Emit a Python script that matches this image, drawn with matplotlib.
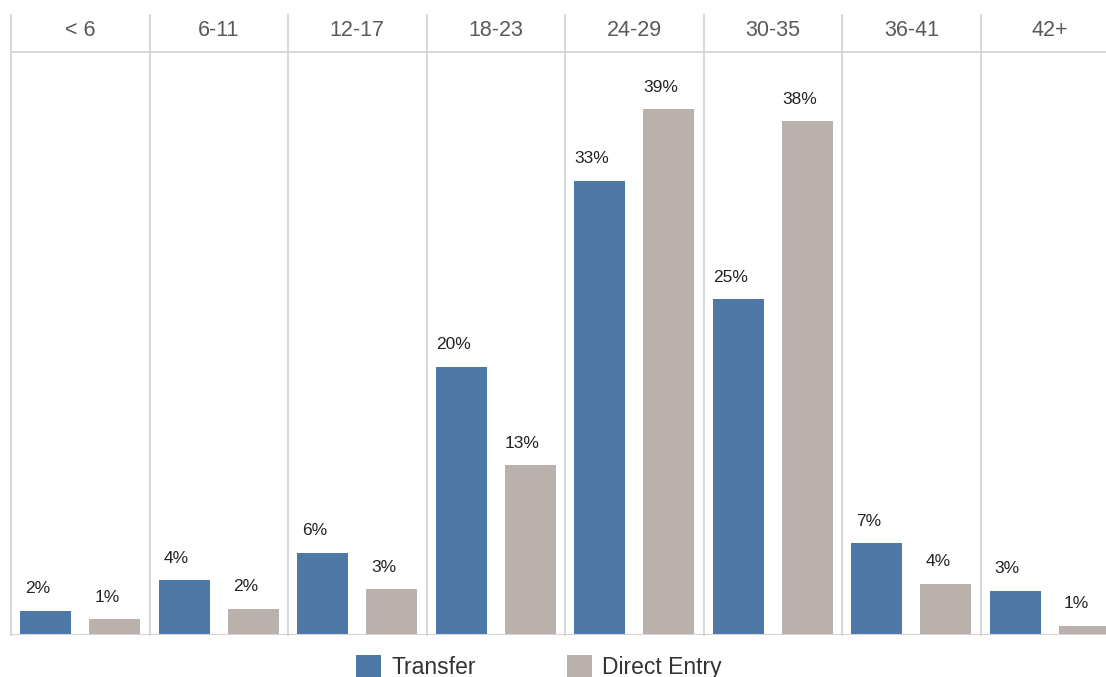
import matplotlib.pyplot as plt
from matplotlib.patches import Patch

plt.rcParams['font.family'] = ['Liberation Sans', 'DejaVu Sans']

groups = ["< 6", "6-11", "12-17", "18-23", "24-29", "30-35", "36-41", "42+"]
transfer = [1.8, 4.05, 6.1, 19.9, 33.7, 24.9, 6.8, 3.3]
direct_entry = [1.15, 1.95, 3.4, 12.6, 39.0, 38.1, 3.8, 0.7]
transfer_lbl = ["2%", "4%", "6%", "20%", "33%", "25%", "7%", "3%"]
direct_lbl = ["1%", "2%", "3%", "13%", "39%", "38%", "4%", "1%"]

blue = "#4E79A7"
taupe = "#BAB0AC"
line_col = "#D4D4D4"

W, H = 1106, 677
fig = plt.figure(figsize=(W / 100, H / 100), dpi=100)
# axes deliberately runs past the right edge (last group is cut off)
ax = fig.add_axes([11 / W, (H - 635) / H, 8 * 138.5 / W, (635 - 15) / H])

ymax = 620 / 13.48
ax.set_xlim(0, 8)
ax.set_ylim(0, ymax)
ax.axis("off")

xs = range(len(groups))
bw = 0.37
b1 = ax.bar([i + 0.25 for i in xs], transfer, width=bw, color=blue, zorder=3)
b2 = ax.bar([i + 0.75 for i in xs], direct_entry, width=bw, color=taupe, zorder=3)

for bars, labels in ((b1, transfer_lbl), (b2, direct_lbl)):
    for rect, lab in zip(bars, labels):
        cx = rect.get_x() + rect.get_width() / 2
        ax.annotate(lab, (cx, rect.get_height()), xytext=(-5.8, 12.6),
                    textcoords="offset points", ha="center", va="baseline",
                    fontsize=12.5, color="#222222")

# grid: vertical separators, header rule, baseline
header_y = (635 - 52) / 13.48
for i in range(len(groups) + 1):
    ax.plot([i, i], [0, ymax], color=line_col, lw=1.3, zorder=1, clip_on=False)
ax.plot([0, 8], [header_y, header_y], color=line_col, lw=1.3, zorder=1)
ax.plot([0, 8], [0, 0], color=line_col, lw=1.5, zorder=4)

for i, g in enumerate(groups):
    ax.text(i + 0.5, (635 - 31) / 13.48, g, ha="center", va="center",
            fontsize=15.5, color="#595959")

handles = [Patch(facecolor=blue, edgecolor="none", label="Transfer"),
           Patch(facecolor=taupe, edgecolor="none", label="Direct Entry")]
fig.legend(handles=handles, loc="center", bbox_to_anchor=(539 / W, 10 / H),
           ncol=2, frameon=False, fontsize=16.5, handlelength=1.09,
           handleheight=1.09, handletextpad=0.44, columnspacing=4.0,
           labelcolor="#333333")

fig.savefig("out.png", dpi=100)
